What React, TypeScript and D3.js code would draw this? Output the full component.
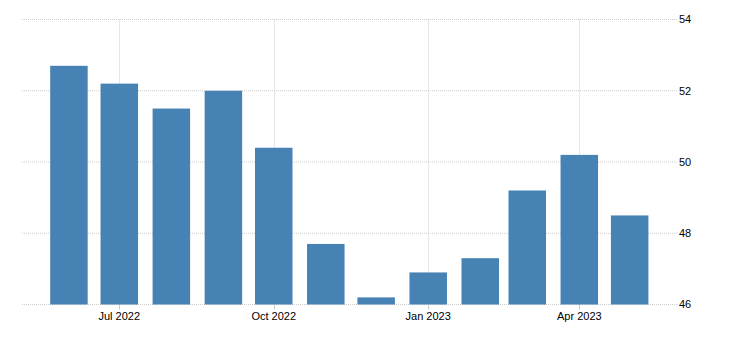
import React from "react";
import * as d3 from "d3";

const months = ["2022-06-01","2022-07-01","2022-08-01","2022-09-01","2022-10-01","2022-11-01","2022-12-01","2023-01-01","2023-02-01","2023-03-01","2023-04-01","2023-05-01"];
const values = [52.7, 52.2, 51.5, 52.0, 50.4, 47.7, 46.2, 46.9, 47.3, 49.2, 50.2, 48.5];
const xTicks = ["2022-07-01","2022-10-01","2023-01-01","2023-04-01"];
const yTicks = [46, 48, 50, 52, 54];

const W = 730, H = 349;
const plotLeft = 22, plotRight = 677;
const parse = d3.utcParse("%Y-%m-%d");
const fmt = d3.utcFormat("%b %Y");

export default function App() {
  const x = d3.scaleUtc()
    .domain([parse("2022-07-01")!, parse("2023-04-01")!])
    .range([119.3, 579.3]);
  const y = d3.scaleLinear().domain([46, 54]).range([304.5, 19.5]);
  const barW = 37.5;
  const grid = "#cccccc";
  const font = "'Liberation Sans', Arial, sans-serif";
  return (
    <svg width={W} height={H} style={{ position: "absolute", left: 0, top: 0 }}>
      {yTicks.map((t) => (
        <g key={t}>
          <line x1={plotLeft} x2={plotRight} y1={y(t)} y2={y(t)} stroke={grid} strokeDasharray="1,1" />
          <text x={679} y={y(t)} dy="0.35em" fontSize={11} fontFamily={font} fill="#000">{t}</text>
        </g>
      ))}
      {xTicks.map((t) => {
        const d = parse(t)!;
        const px = Math.round(x(d)) + 0.5;
        return (
          <g key={t}>
            <line x1={px} x2={px} y1={y(54)} y2={y(46)} stroke={grid} strokeDasharray="1,1" />
            <line x1={px} x2={px} y1={y(46)} y2={y(46) + 5} stroke={grid} />
            <text x={x(d)} y={320} textAnchor="middle" fontSize={11} fontFamily={font} fill="#000">{fmt(d)}</text>
          </g>
        );
      })}
      {months.map((m, i) => {
        const cx = x(parse(m)!);
        return (
          <rect key={m} x={cx - barW / 2} y={y(values[i])} width={barW} height={y(46) - y(values[i])} fill="#4682b4" />
        );
      })}
    </svg>
  );
}
